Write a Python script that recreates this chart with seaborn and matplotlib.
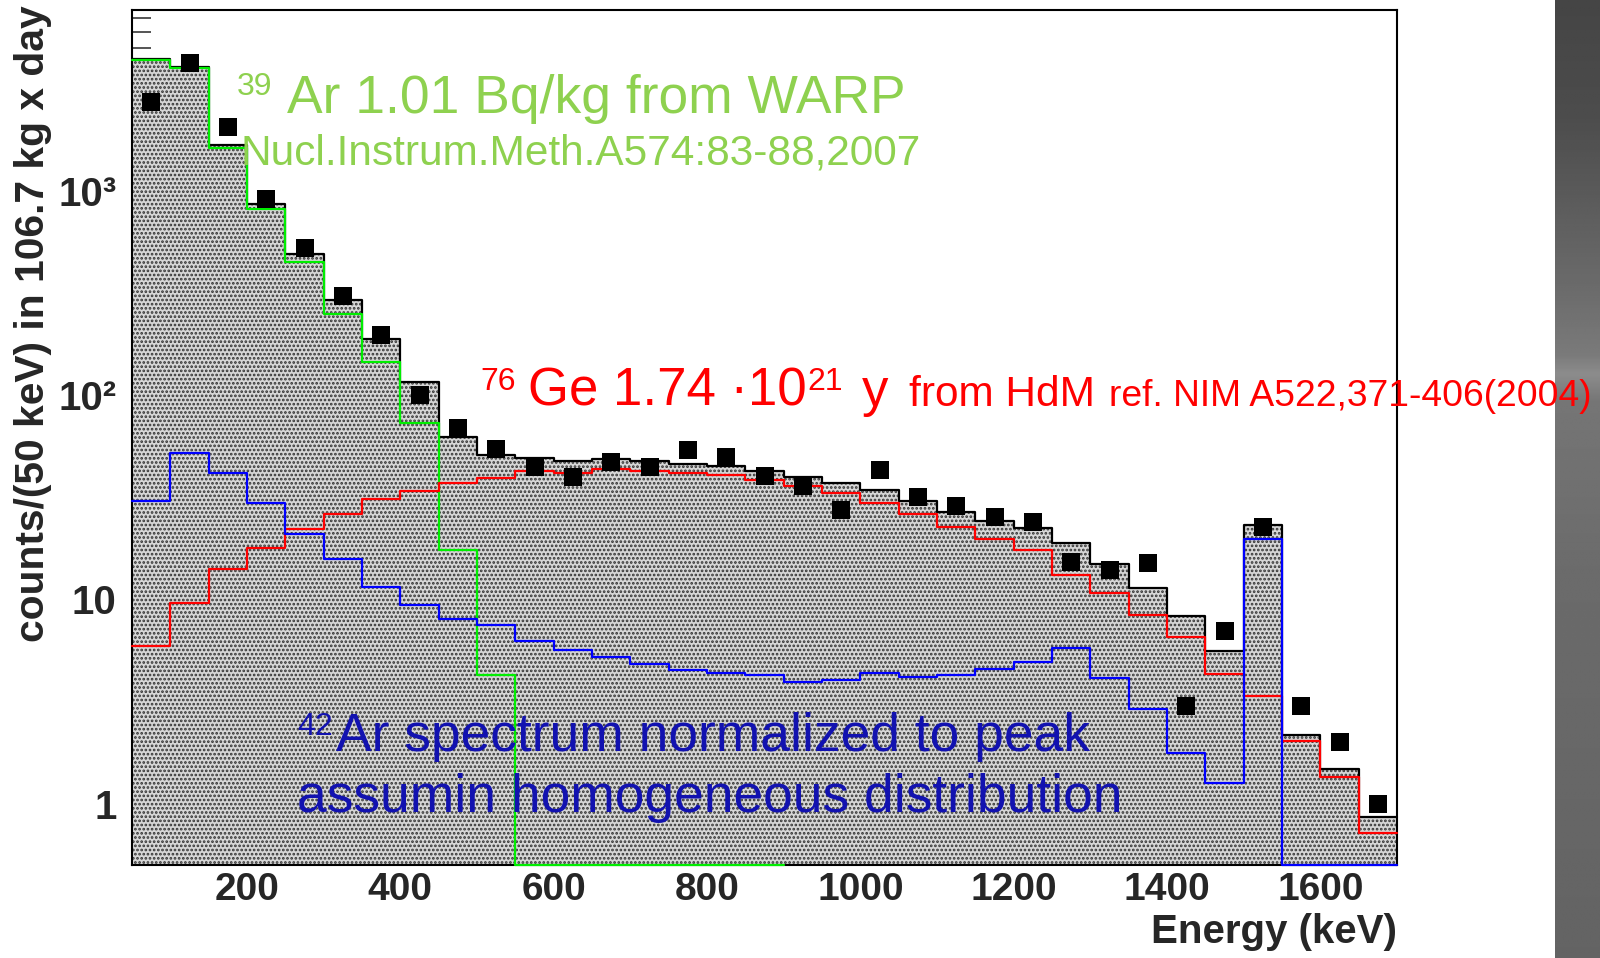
import numpy as np
import pandas as pd
import matplotlib
matplotlib.use("Agg")
import matplotlib.pyplot as plt
import seaborn as sns
from matplotlib.ticker import FixedLocator, FixedFormatter, NullFormatter

# ---------------- data: counts per 50 keV bin, 50 .. 1700 keV ----------------
bin_start_kev = 50
bin_stop_kev = 1700
bin_width_kev = 50

# 39Ar beta spectrum (WARP activity); the tail bins fall below the axis floor
ar39_counts = [4385, 3992, 1618, 813, 450, 251, 146, 73, 17.4, 4.24,
               0.3, 0.1, 0.05, 0.03, 0.02, 0.01, 0.01]

# 76Ge 2-neutrino double beta spectrum (HdM half-life)
ge76_counts = [5.88, 9.63, 14.1, 17.8, 22.0, 26.1, 31.1, 34.0, 37.3, 39.5,
               42.6, 41.6, 43.7, 42.6, 41.6, 40.5, 38.3, 35.8, 33.2, 29.8,
               26.1, 22.5, 19.7, 17.4, 13.1, 10.7, 8.43, 6.55, 4.33, 3.35,
               2.02, 1.35, 0.72]

# 42Ar / 42K spectrum normalised to the 1525 keV peak
ar42_counts = [30.3, 52.1, 41.6, 29.7, 20.8, 15.7, 11.5, 9.42, 8.04, 7.46,
               6.22, 5.64, 5.21, 4.84, 4.49, 4.37, 4.24, 3.93, 4.03, 4.37,
               4.16, 4.24, 4.57, 4.93, 5.75, 4.12, 2.89, 1.77, 1.26, 19.8,
               0.15, 0.13, 0.14]

# measured spectrum
data_counts = [2741, 4220, 2066, 910, 523, 306, 197, 100, 68.7, 54.8,
               44.5, 39.7, 47.1, 44.5, 54.1, 49.7, 40.1, 35.9, 27.3, 43.2,
               31.7, 28.6, 25.3, 23.9, 15.2, 14.0, 15.1, 3.0, 7.0, 22.7,
               3.0, 2.0, 1.0]

y_floor, y_ceil = 0.5, 7700

edges = np.arange(bin_start_kev, bin_stop_kev + 1, bin_width_kev)
centers = edges[:-1] + bin_width_kev / 2

ar39 = np.zeros(len(centers))
ar39[:len(ar39_counts)] = ar39_counts
ge76 = np.array(ge76_counts)
ar42 = np.array(ar42_counts)
total = ar39 + ge76 + ar42

# ---------------- style ----------------
sns.set_style("white")
plt.rcParams["font.family"] = ["Liberation Sans", "DejaVu Sans"]
plt.rcParams["hatch.linewidth"] = 1.3
plt.rcParams["hatch.color"] = "#333333"

W, H = 1600, 958
fig = plt.figure(figsize=(W / 100, H / 100), dpi=100)
fig.patch.set_facecolor("white")
ax = fig.add_axes([132 / W, 1 - 865 / H, (1397 - 132) / W, (865 - 10) / H])
ax.set_yscale("log")

# stacked Monte-Carlo sum, dotted fill
ax.stairs(total, edges, baseline=1e-3, fill=True, facecolor="#d6d6d6",
          edgecolor="#333333", hatch="....", linewidth=0, zorder=1)


def step_line(values, nbins, color, z):
    shown = np.maximum(np.asarray(values, dtype=float)[:nbins], y_floor)
    frame = pd.DataFrame({"energy": centers[:nbins], "counts": shown})
    sns.histplot(data=frame, x="energy", weights="counts",
                 bins=[float(e) for e in edges[:nbins + 1]],
                 element="step", fill=False, color=color, linewidth=1.6,
                 ax=ax, zorder=z, clip_on=False)


step_line(total, len(centers), "black", 2)
step_line(ar39, len(ar39_counts), "#00ee00", 3)
step_line(ge76, len(centers), "#ff0000", 3)
step_line(ar42, len(centers), "#0000ff", 3)

points = pd.DataFrame({"energy": centers, "counts": data_counts})
sns.scatterplot(data=points, x="energy", y="counts", marker="s", s=150,
                color="black", linewidth=0, ax=ax, zorder=5)

ax.set_xlim(bin_start_kev, bin_stop_kev)
ax.set_ylim(y_floor, y_ceil)
ax.set_xlabel("")
ax.set_ylabel("")

# ticks
ax.xaxis.set_major_locator(FixedLocator(list(range(200, 1601, 200))))
ax.xaxis.set_minor_locator(FixedLocator([e for e in range(50, 1701, 50) if e % 200]))
ax.yaxis.set_major_locator(FixedLocator([1, 10, 100, 1000]))
ax.yaxis.set_major_formatter(FixedFormatter(["1", "10", "10\u00b2", "10\u00b3"]))
ax.yaxis.set_minor_locator(FixedLocator(
    [m * 10.0 ** d for d in range(-1, 4) for m in range(2, 10)
     if y_floor <= m * 10.0 ** d <= y_ceil]))
ax.yaxis.set_minor_formatter(NullFormatter())
ax.tick_params(axis="x", which="major", direction="in", length=18.5, width=1.1,
               labelsize=28, pad=5, bottom=True, top=False)
ax.tick_params(axis="x", which="minor", direction="in", length=9.3, width=1.1,
               bottom=True, top=False)
ax.tick_params(axis="y", which="major", direction="in", length=28, width=1.1,
               labelsize=29, pad=11, left=True, right=False)
ax.tick_params(axis="y", which="minor", direction="in", length=14, width=1.1,
               left=True, right=False)
for lab in ax.get_xticklabels() + ax.get_yticklabels():
    lab.set_fontweight("bold")
for sp in ax.spines.values():
    sp.set_linewidth(1.5)
    sp.set_color("black")
    sp.set_visible(True)

# axis titles
fig.text(33 / W, 1 - 324 / H, "counts/(50 keV) in 106.7 kg x day", rotation=90,
         ha="center", va="center", fontsize=29.3, fontweight="bold")
fig.text(1397 / W, 1 - 943 / H, "Energy (keV)", ha="right", va="baseline",
         fontsize=29, fontweight="bold")


# annotations
def put(x, y, s, size, color):
    fig.text(x / W, 1 - y / H, s, fontsize=size, color=color,
             ha="left", va="baseline", zorder=10)


green_txt, red_txt, blue_txt = "#8ed14f", "#ff0000", "#1212b0"
put(237, 95, "39", 23, green_txt)
put(287, 113, "Ar 1.01 Bq/kg from WARP", 38.4, green_txt)
put(241, 165, "Nucl.Instrum.Meth.A574:83-88,2007", 30.5, green_txt)

put(480, 390, "76", 23, red_txt)
put(528, 406, "Ge 1.74 \u00b710", 38, red_txt)
put(807, 390, "21", 23, red_txt)
put(862, 406, "y", 38, red_txt)
put(909, 406, "from HdM", 30.5, red_txt)
put(1109, 406, "ref. NIM A522,371-406(2004)", 26.8, red_txt)

put(297, 735, "42", 23, blue_txt)
put(336, 751, "Ar spectrum normalized to peak", 38.4, blue_txt)
put(297, 812, "assumin homogeneous distribution", 38.4, blue_txt)

# shaded side panel
side = fig.add_axes([1555 / W, 0, (W - 1555) / W, 1])
rows = np.linspace(0, 1, 400)
shade = np.interp(rows, [0.0, 0.12, 0.30, 0.37, 0.39, 0.42, 0.60, 1.0],
                  [0.27, 0.30, 0.42, 0.48, 0.55, 0.46, 0.42, 0.39])
side.imshow(np.tile(shade[:, None], (1, 10)), cmap="gray", vmin=0, vmax=1,
            aspect="auto", extent=[0, 1, 0, 1], origin="upper")
side.set_axis_off()
side.set_zorder(-1)

fig.savefig("out.png", dpi=100, facecolor="white")
